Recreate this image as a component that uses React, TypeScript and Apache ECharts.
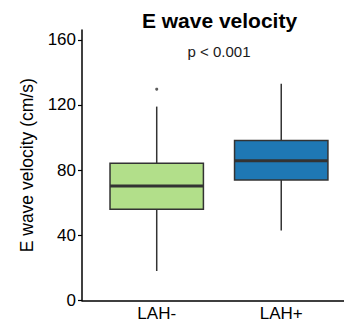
import React, { useEffect, useRef } from "react";
import * as echarts from "echarts";

const categories = ["LAH-", "LAH+"];
// [low whisker, Q1, median, Q3, high whisker]
const boxStats = [
  [18.1, 56.0, 70.3, 84.3, 119.0],
  [42.9, 74.0, 85.7, 98.2, 133.0],
];
const boxColors = ["#B2DF8A", "#1F78B4"];
const outliers = [[1, 129.7]];
const yTicks = [0, 40, 80, 120, 160];
const titleText = "E wave velocity";
const pText = "p < 0.001";
const yName = "E wave velocity (cm/s)";

const FONT = "Liberation Sans, Arial, Helvetica, sans-serif";

export default function App() {
  const ref = useRef<HTMLDivElement>(null);
  useEffect(() => {
    if (!ref.current) return;
    const chart = echarts.init(ref.current, null, { renderer: "svg" });
    const boxData = boxStats.map((s, i) => [i + 1, ...s]);
    chart.setOption({
      animation: false,
      backgroundColor: "#ffffff",
      grid: { left: 82, top: 30, right: 0, bottom: 22.5, containLabel: false },
      graphic: [
        {
          type: "text",
          x: 219.5,
          y: 20,
          style: {
            text: titleText,
            textAlign: "center",
            textVerticalAlign: "middle",
            fontSize: 21,
            fontWeight: "bold",
            fontFamily: FONT,
            fill: "#000",
          },
        },
        {
          type: "text",
          x: 219,
          y: 51,
          style: {
            text: pText,
            textAlign: "center",
            textVerticalAlign: "middle",
            fontSize: 15,
            fontFamily: FONT,
            fill: "#1a1a1a",
          },
        },
      ],
      xAxis: {
        type: "value",
        min: 0.4,
        max: 2.504,
        splitLine: { show: false },
        axisLine: { show: true, lineStyle: { color: "#000", width: 1.5 } },
        axisTick: { show: false },
        axisLabel: {
          customValues: [1, 2],
          formatter: (v: number) => categories[Math.round(v) - 1] ?? "",
          fontSize: 17,
          fontFamily: FONT,
          color: "#000",
          margin: 4,
        },
      },
      yAxis: {
        type: "value",
        min: 0,
        max: 166,
        splitLine: { show: false },
        name: yName,
        nameLocation: "middle",
        nameGap: 46,
        nameTextStyle: { fontSize: 17.5, fontFamily: FONT, color: "#000" },
        axisLine: { show: true, lineStyle: { color: "#000", width: 1.5 } },
        axisTick: { show: true, length: 4, customValues: yTicks, lineStyle: { color: "#000", width: 1.2 } },
        axisLabel: {
          customValues: yTicks,
          fontSize: 17,
          fontFamily: FONT,
          color: "#000",
          margin: 6,
        },
      },
      series: [
        {
          type: "custom",
          data: boxData,
          encode: { x: 0, y: [1, 2, 3, 4, 5] },
          renderItem: (params: any, api: any) => {
            const x = api.value(0);
            const lo = api.coord([x, api.value(1)]);
            const q1 = api.coord([x, api.value(2)]);
            const med = api.coord([x, api.value(3)]);
            const q3 = api.coord([x, api.value(4)]);
            const hi = api.coord([x, api.value(5)]);
            const half = api.size([0.75, 0])[0] / 2;
            const cx = lo[0];
            const stroke = "#333333";
            return {
              type: "group",
              children: [
                {
                  type: "line",
                  shape: { x1: cx, y1: hi[1], x2: cx, y2: q3[1] },
                  style: { stroke, lineWidth: 1.5 },
                },
                {
                  type: "line",
                  shape: { x1: cx, y1: q1[1], x2: cx, y2: lo[1] },
                  style: { stroke, lineWidth: 1.5 },
                },
                {
                  type: "rect",
                  shape: { x: cx - half, y: q3[1], width: half * 2, height: q1[1] - q3[1] },
                  style: { fill: boxColors[params.dataIndex], stroke, lineWidth: 1.5 },
                },
                {
                  type: "line",
                  shape: { x1: cx - half, y1: med[1], x2: cx + half, y2: med[1] },
                  style: { stroke, lineWidth: 3 },
                },
              ],
            };
          },
        },
        {
          type: "scatter",
          data: outliers,
          symbolSize: 3,
          itemStyle: { color: "#333333" },
        },
      ],
    });
    return () => chart.dispose();
  }, []);
  return (
    <div
      ref={ref}
      style={{ position: "fixed", left: 0, top: 0, width: 344, height: 323 }}
    />
  );
}
